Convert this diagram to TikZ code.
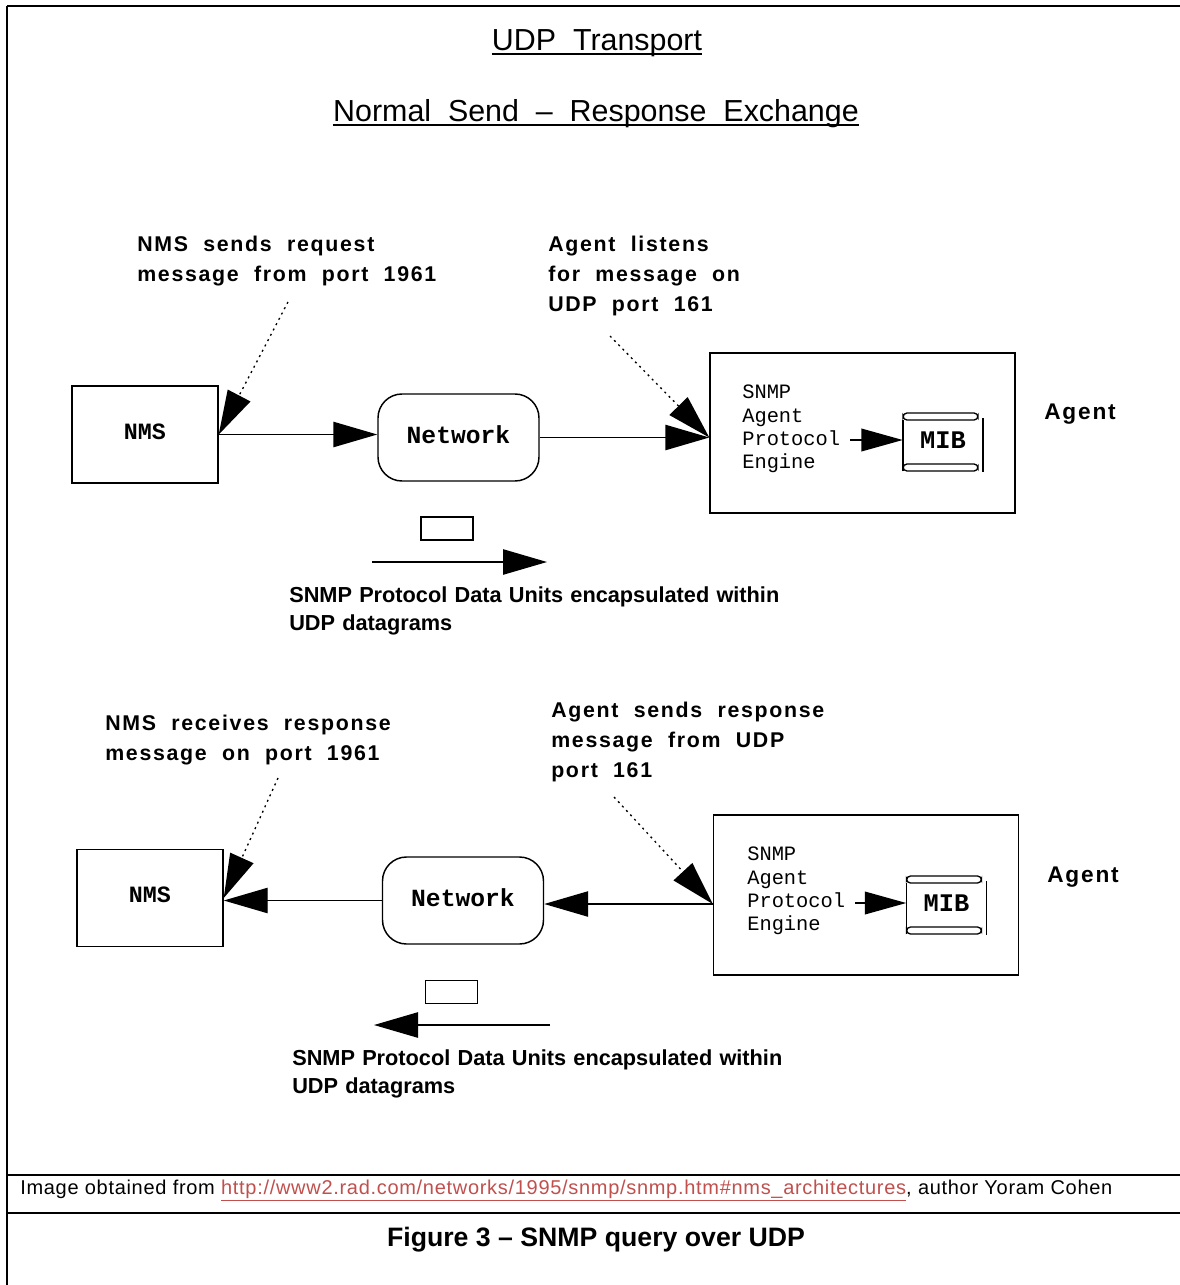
\documentclass[tikz,border=0pt]{standalone}
\usepackage{fontspec}
\setmainfont{Liberation Sans}
\newfontfamily\monof{Liberation Mono}
\newfontfamily\lblfont[LetterSpace=8]{Liberation Sans}
\newfontfamily\srcfont[LetterSpace=3.5]{Liberation Sans}
\usetikzlibrary{arrows.meta}
\definecolor{linkc}{RGB}{192,80,77}
\newcommand\wgap{\hspace{5.4pt}}
\begin{document}
\begin{tikzpicture}[x=0.75pt,y=-0.75pt,
  box/.style={draw, line width=1.1pt, inner sep=0pt},
  nmsbox/.style={box, minimum width=109.5pt, minimum height=72.75pt, font=\monof\bfseries\fontsize{17.5pt}{20pt}\selectfont},
  netbox/.style={box, rounded corners=18pt, minimum width=120.75pt, minimum height=65.25pt, font=\monof\bfseries\fontsize{18.5pt}{22pt}\selectfont},
  agbox/.style={box, minimum width=228.75pt, minimum height=120pt},
  engtext/.style={align=left, inner sep=0pt, anchor=west, font=\monof\fontsize{15.3pt}{17.5pt}\selectfont},
  mibtext/.style={inner sep=0pt, minimum width=60pt, minimum height=42pt, font=\monof\bfseries\fontsize{19pt}{22pt}\selectfont},
  lbl/.style={align=left, inner sep=0pt, anchor=north west, font=\lblfont\bfseries\fontsize{16pt}{22.5pt}\selectfont},
  pducap/.style={align=left, inner sep=0pt, anchor=north west, font=\bfseries\fontsize{16.3pt}{21pt}\selectfont},
  agentlbl/.style={inner sep=0pt, font=\lblfont\bfseries\fontsize{17pt}{20pt}\selectfont},
  pkt/.style={box, minimum width=39pt, minimum height=17.25pt},
  conn/.style={line width=1.1pt, -{Triangle[length=33pt,width=19pt]}},
  smallconn/.style={line width=1.1pt, -{Triangle[length=31pt,width=17pt]}},
  hint/.style={line width=1pt, dash pattern=on 1.5pt off 3pt, -{Triangle[length=33pt,width=19pt]}},
  frame/.style={line width=2.2pt},
  ttl/.style={inner sep=0pt, font=\fontsize{22.8pt}{26pt}\selectfont},
  mibcyl/.pic={
    \draw[line width=1pt, rounded corners=3pt] (-40,-27) rectangle (35,-20);
    \draw[line width=1pt] (-40,-20) -- (-40,31);
    \draw[line width=1pt] (40,-22) -- (40,32);
    \draw[line width=1pt, rounded corners=3pt] (-40,24) rectangle (35,31);
    \node[mibtext] (-c) at (0,0) {MIB};
  }
]
\useasboundingbox (0,0) rectangle (1180,1285);
% frame
\draw[frame] (7,6) -- (1180,6);
\draw[line width=1.5pt] (7,6) -- (7,1285);
\draw[frame] (7,1175) -- (1180,1175);
\draw[frame] (7,1213) -- (1180,1213);

% titles
\node[ttl, anchor=base] (t1) at (597,50) {UDP\ \ Transport};
\draw[line width=1.4pt] ([yshift=-3pt]t1.base west) -- ([yshift=-3pt]t1.base east);
\node[ttl, anchor=base] (t2) at (596,121) {Normal\ \ Send\ \ –\ \ Response\ \ Exchange};
\draw[line width=1.4pt] ([yshift=-3pt]t2.base west) -- ([yshift=-3pt]t2.base east);

% ---------- top exchange ----------
\node[nmsbox] (nms1) at (145,434.5) {\raisebox{4.5pt}{NMS}};
\node[netbox] (net1) at (458.5,437.5) {\raisebox{4pt}{Network}};
\node[agbox] (ag1) at (862.5,433) {};
\node[engtext] (eng1) at (742,429) {SNMP\\Agent\\Protocol\\Engine};
\pic (m1) at (943,440) {mibcyl};
\node[agentlbl] (agl1) at (1080,414) {Agent};

\node[lbl] (lab1) at (137,236) {NMS\ \ sends\ \ request\\message\ \ from\ \ port\ \ 1961};
\node[lbl] (lab2) at (548,236) {Agent\ \ listens\\for\ \ message\ \ on\\UDP\ \ port\ \ 161};
\coordinate (h1) at (288,302);
\coordinate (h2) at (610,336);

\draw[conn] (nms1.east) -- (nms1.east -| net1.west);
\coordinate (in1) at (ag1.west |- net1.east);
\draw[conn] (net1.east) -- (in1);
\draw[hint] (h1) -- (nms1.east);
\draw[hint] (h2) -- (in1);
\draw[smallconn] ([xshift=7.5pt]eng1.east |- m1-c.west) -- (m1-c.west);

\node[pkt] (pkt1) at (447,528.5) {};
\coordinate (d1a) at (372,562);
\coordinate (d1b) at (547,562);
\draw[conn] (d1a) -- (d1b);
\node[pducap] (cap1) at (289,586) {SNMP\wgap Protocol\wgap Data\wgap Units\wgap encapsulated\wgap within\\UDP\wgap datagrams};

% ---------- bottom exchange ----------
\node[nmsbox] (nms2) at (150,898) {\raisebox{4.5pt}{NMS}};
\node[netbox] (net2) at (463,900.5) {\raisebox{4pt}{Network}};
\node[agbox] (ag2) at (866,895) {};
\node[engtext] (eng2) at (747,891) {SNMP\\Agent\\Protocol\\Engine};
\pic (m2) at (946.5,903) {mibcyl};
\node[agentlbl] (agl2) at (1083,877) {Agent};

\node[lbl] (lab3) at (105,715) {NMS\ \ receives\ \ response\\message\ \ on\ \ port\ \ 1961};
\node[lbl] (lab4) at (551,702) {Agent\ \ sends\ \ response\\message\ \ from\ \ UDP\\port\ \ 161};
\coordinate (h3) at (278,778);
\coordinate (h4) at (614,797);

\coordinate (out2) at (ag2.west |- 0,904);
\draw[conn] (out2) -- (out2 -| net2.east);
\draw[conn] (net2.west) -- (net2.west -| nms2.east);
\draw[hint] (h3) -- (nms2.east);
\draw[hint] (h4) -- (out2);
\draw[smallconn] ([xshift=7.5pt]eng2.east |- m2-c.west) -- (m2-c.west);

\node[pkt] (pkt2) at (451.5,992) {};
\coordinate (d2a) at (550,1025);
\coordinate (d2b) at (374,1025);
\draw[conn] (d2a) -- (d2b);
\node[pducap] (cap2) at (292,1049) {SNMP\wgap Protocol\wgap Data\wgap Units\wgap encapsulated\wgap within\\UDP\wgap datagrams};

% ---------- footer ----------
\node[inner sep=0pt, anchor=base west, font=\srcfont\fontsize{15pt}{18pt}\selectfont] (src) at (20,1194)
  {Image obtained from \textcolor{linkc}{\underline{http://www2.rad.com/networks/1995/snmp/snmp.htm\#nms\_architectures}}, author Yoram Cohen};
\node[inner sep=0pt, anchor=base, font=\bfseries\fontsize{20pt}{22pt}\selectfont] (fig) at (596,1246) {Figure 3 – SNMP query over UDP};
\end{tikzpicture}
\end{document}
